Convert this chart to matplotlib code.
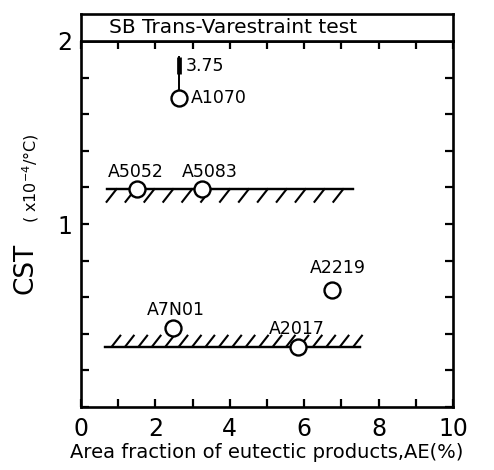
import matplotlib
matplotlib.use("Agg")
import matplotlib.pyplot as plt
import matplotlib.patheffects as pe
import numpy as np

# ---- data ----
alloys = ["A1070", "A5052", "A5083", "A2219", "A7N01", "A2017"]
ae_pct = [2.63, 1.50, 3.25, 6.75, 2.47, 5.83]
cst = [1.69, 1.19, 1.19, 0.64, 0.43, 0.33]
a1070_arrow_top = 1.91
a1070_arrow_label = "3.75"
upper_band_x = [0.70, 7.30]
upper_band_y = 1.19
lower_band_x = [0.65, 7.50]
lower_band_y = 0.33
x_ticks = [0, 2, 4, 6, 8, 10]
y_ticklabels = {1: "1", 2: "2"}
title = "SB Trans-Varestraint test"
xlabel = "Area fraction of eutectic products,AE(%)"

fig = plt.figure(figsize=(4.94, 4.70), dpi=100)
L, W = 81/494, 372/494
B, H = 63/470, 366/470
ax = fig.add_axes([L, B, W, H])
tb = fig.add_axes([L, B + H, W, 27/470])

lw_sp = 1.9
for a in (ax, tb):
    for s in a.spines.values():
        s.set_linewidth(lw_sp)

ax.set_xlim(0, 10)
ax.set_ylim(0, 2)
ax.set_xticks(x_ticks)
ax.set_xticks(np.arange(0, 11, 1), minor=True)
ax.set_yticks(list(y_ticklabels.keys()))
ax.set_yticklabels(list(y_ticklabels.values()))
ax.set_yticks(np.arange(0, 2.01, 0.2), minor=True)
ax.tick_params(which="both", direction="in", length=6, width=1.6,
               top=True, right=True, labelsize=17, pad=7)
ax.tick_params(axis="y", which="both", pad=6)

tb.set_xticks([]); tb.set_yticks([])
tb.text(0.075, 0.5, title, transform=tb.transAxes, ha="left", va="center",
        fontsize=14.5)

# hatched lines
ax.plot(upper_band_x, [upper_band_y]*2, color="black", lw=1.6,
        path_effects=[pe.withTickedStroke(angle=-128, spacing=13.5, length=0.85, linewidth=1.5),
                      pe.Normal()])
ax.plot(lower_band_x, [lower_band_y]*2, color="black", lw=1.6,
        path_effects=[pe.withTickedStroke(angle=52, spacing=9.5, length=1.05, linewidth=1.5),
                      pe.Normal()])

# A1070 arrow
ax.plot([ae_pct[0]]*2, [cst[0], a1070_arrow_top], color="black", lw=1.4, zorder=3)
ax.plot([ae_pct[0]]*2, [a1070_arrow_top - 0.09, a1070_arrow_top], color="black", lw=3.4,
        zorder=3, solid_capstyle="butt")
ax.annotate(a1070_arrow_label, (ae_pct[0], a1070_arrow_top), xytext=(5, -6),
            textcoords="offset points", ha="left", va="center", fontsize=12.5)

ax.plot(ae_pct, cst, "o", ms=11.5, mfc="white", mec="black", mew=1.7, zorder=4, ls="none")

offsets = {
    "A1070": (9, 0, "left", "center"),
    "A5052": (-1, 12.5, "center", "center"),
    "A5083": (6, 12.5, "center", "center"),
    "A2219": (4, 16, "center", "center"),
    "A7N01": (2, 13, "center", "center"),
    "A2017": (-1, 13, "center", "center"),
}
for name, x, y in zip(alloys, ae_pct, cst):
    dx, dy, ha, va = offsets[name]
    ax.annotate(name, (x, y), xytext=(dx, dy), textcoords="offset points",
                ha=ha, va=va, fontsize=12.5)

ax.set_xlabel(xlabel, fontsize=14, labelpad=2)
ax.text(-0.148, 0.38, "CST", transform=ax.transAxes, rotation=90,
        ha="center", va="center", fontsize=19)
ax.text(-0.135, 0.625, "( x10$^{-4}$/°C)", transform=ax.transAxes, rotation=90,
        ha="center", va="center", fontsize=11.5)

fig.savefig("out.png", dpi=100)
